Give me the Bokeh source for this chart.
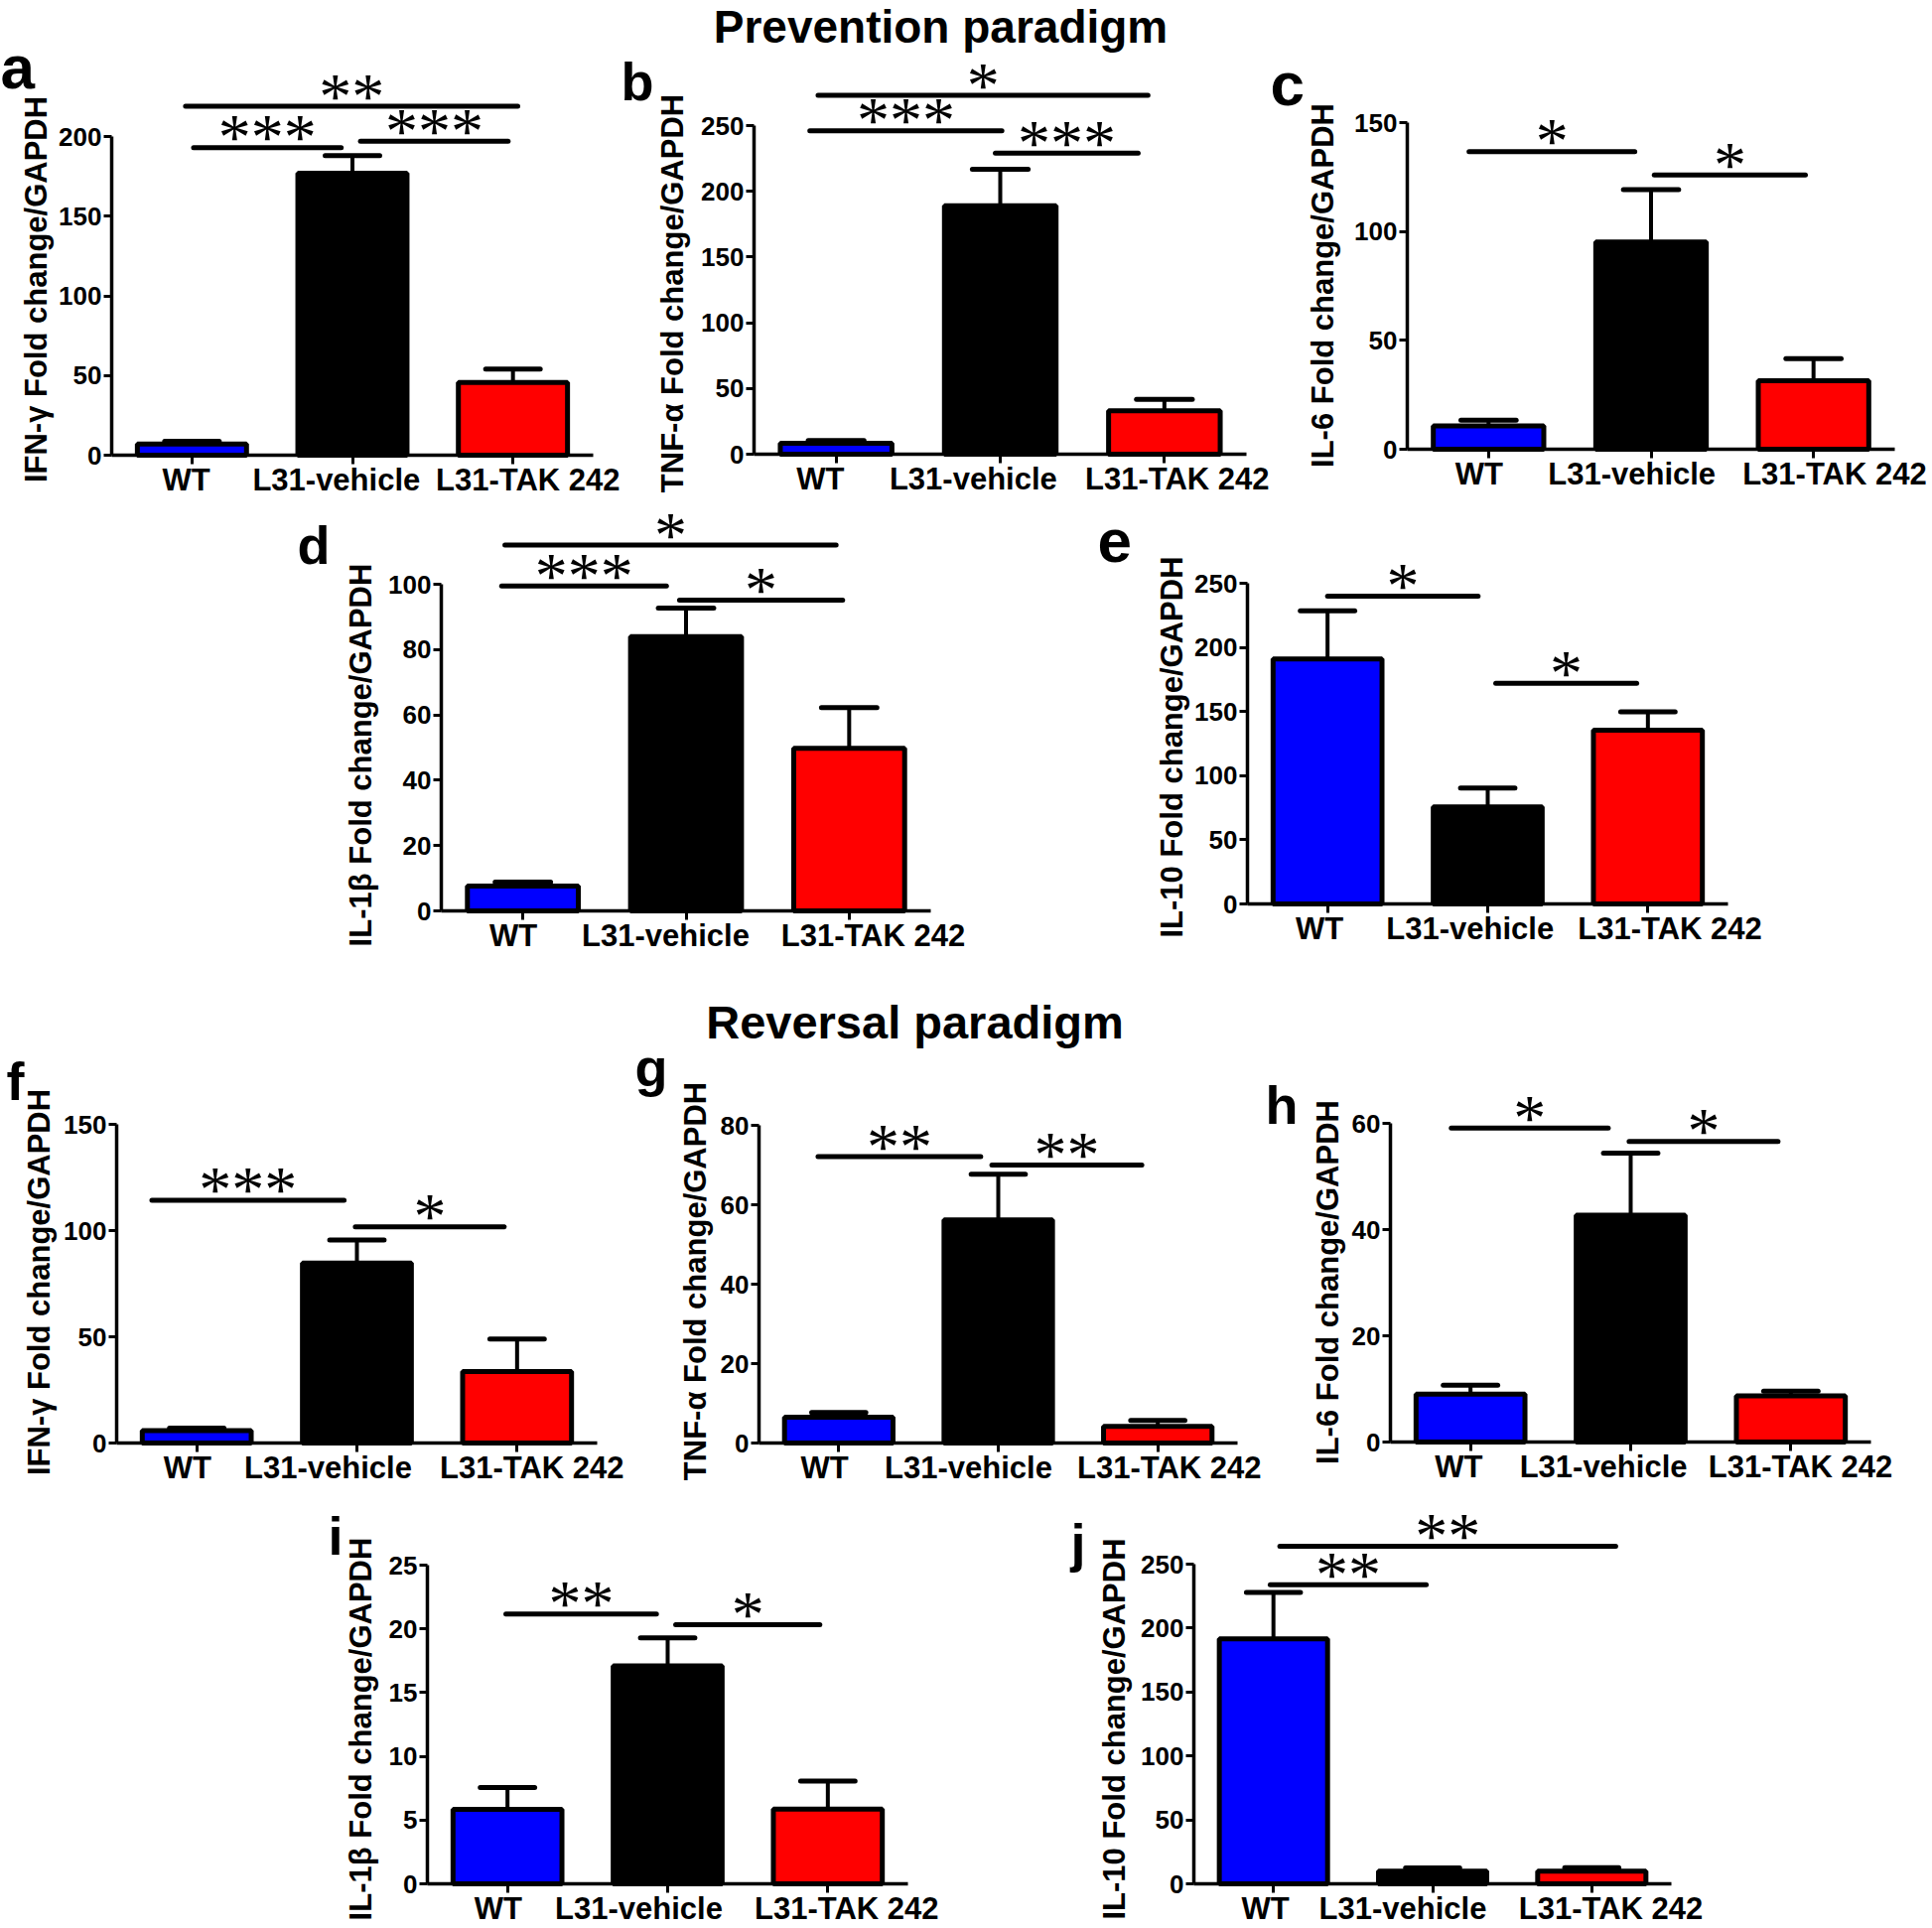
from bokeh.plotting import figure
from bokeh.models import Range1d, FixedTicker, Label, Spacer, ColumnDataSource, LinearAxis
from bokeh.layouts import row, column
from bokeh.embed import file_html
from bokeh.resources import INLINE
from bokeh.core.properties import value

# ---------------- data ----------------
categories = ["WT", "L31-vehicle", "L31-TAK 242"]
bar_colors = ["#0000FF", "#000000", "#FF0000"]

# Prevention paradigm
a_mean = [7.0, 177.0, 45.7];   a_sem = [1.7, 11.0, 8.3]
b_mean = [8.3, 189.0, 33.0];   b_sem = [2.0, 27.8, 8.8]
c_mean = [10.7, 95.2, 31.5];   c_sem = [2.6, 24.0, 10.1]
d_mean = [7.6, 84.0, 49.8];    d_sem = [1.2, 8.7, 12.4]
e_mean = [191.0, 75.7, 135.5]; e_sem = [37.6, 14.7, 14.3]
# Reversal paradigm
f_mean = [5.8, 84.7, 33.7];    f_sem = [1.2, 10.9, 15.3]
g_mean = [6.5, 56.2, 4.2];     g_sem = [1.2, 11.5, 1.5]
h_mean = [9.0, 42.7, 8.7];     h_sem = [1.7, 11.7, 0.9]
i_mean = [5.85, 17.1, 5.87];   i_sem = [1.7, 2.2, 2.2]
j_mean = [191.5, 9.9, 9.9];    j_sem = [36.3, 2.5, 2.7]

# significance brackets: (label, from, to, level)
a_sig = [("**", -0.04, 2.03, 219), ("***", 0.01, 0.93, 193), ("***", 1.05, 1.97, 197)]
b_sig = [("*", -0.11, 1.90, 273), ("***", -0.16, 1.01, 246), ("***", 0.97, 1.84, 229)]
c_sig = [("*", -0.12, 0.90, 136.7), ("*", 1.02, 1.95, 126)]
d_sig = [("*", -0.11, 1.92, 112), ("***", -0.13, 0.88, 99.5), ("*", 0.96, 1.96, 95.1)]
e_sig = [("*", 0.0, 0.94, 240), ("*", 1.05, 1.93, 172)]
f_sig = [("***", -0.28, 0.92, 114.3), ("*", 0.99, 1.92, 101.8)]
g_sig = [("**", -0.13, 0.89, 72.1), ("**", 0.96, 1.90, 70.0)]
h_sig = [("*", -0.12, 0.86, 59.1), ("*", 0.99, 1.92, 56.6)]
i_sig = [("**", -0.01, 0.93, 21.16), ("*", 1.05, 1.95, 20.33)]
j_sig = [("**", 0.04, 2.15, 264), ("**", -0.02, 0.96, 233.8)]

y_labels = {
    "a": "IFN-\u03b3 Fold change/GAPDH", "b": "TNF-\u03b1 Fold change/GAPDH",
    "c": "IL-6 Fold change/GAPDH", "d": "IL-1\u03b2 Fold change/GAPDH",
    "e": "IL-10 Fold change/GAPDH", "f": "IFN-\u03b3 Fold change/GAPDH",
    "g": "TNF-\u03b1 Fold change/GAPDH", "h": "IL-6 Fold change/GAPDH",
    "i": "IL-1\u03b2 Fold change/GAPDH", "j": "IL-10 Fold change/GAPDH",
}
y_ticks_max = {"a": 200, "b": 250, "c": 150, "d": 100, "e": 250,
               "f": 150, "g": 80, "h": 60, "i": 25, "j": 250}
y_ticks_step = {"a": 50, "b": 50, "c": 50, "d": 20, "e": 50,
                "f": 50, "g": 20, "h": 20, "i": 5, "j": 50}

# ---------------- layout (page pixels) ----------------
SANS = "Liberation Sans"
# key: (fig_left, fig_top, fig_w, fig_h, axis_left, axis_right, y0_px, ytop_px,
#       letter_x, letter_anchor_y, ylabel_x, ylabel_center_y)
geom = {
    "a": (0, 0, 624, 503, 112, 597, 458, 137, 0, 67, 36, 291),
    "b": (624, 0, 654, 503, 759, 1255, 457, 126, 625, 81, 677, 295),
    "c": (1278, 0, 666, 503, 1417, 1908, 452, 123, 1279, 84, 1332, 287),
    "d": (290, 503, 690, 482, 444, 937, 917, 588, 299, 548, 363, 760),
    "e": (1095, 503, 695, 482, 1256, 1740, 910, 587, 1105, 544, 1180, 752),
    "f": (0, 985, 628, 512, 117, 601, 1453, 1132, 6, 1088, 39, 1291),
    "g": (628, 985, 642, 512, 764, 1246, 1453, 1133, 639, 1074, 700, 1290),
    "h": (1270, 985, 674, 512, 1400, 1884, 1452, 1131, 1274, 1112, 1337, 1291),
    "i": (322, 1497, 623, 445, 430, 914, 1897, 1576, 330, 1546, 363, 1741),
    "j": (1068, 1497, 652, 445, 1202, 1683, 1897, 1575, 1078, 1553, 1122, 1741),
}
letter_size = {"a": 62, "b": 54, "c": 62, "d": 54, "e": 62,
               "f": 54, "g": 54, "h": 54, "i": 54, "j": 54}
# category-label offsets from each tick (the original staggers them)
label_shift = {
    "a": [-0.035, -0.10, 0.14], "b": [-0.096, -0.164, 0.14], "c": [-0.058, -0.118, 0.13],
    "d": [-0.058, -0.125, 0.147], "e": [-0.05, -0.11, 0.138], "f": [-0.058, -0.18, 0.12],
    "g": [-0.088, -0.187, 0.15], "h": [-0.073, -0.17, 0.06], "i": [-0.058, -0.18, 0.145],
    "j": [-0.05, -0.187, 0.12],
}

data = {
    "a": (a_mean, a_sem, a_sig), "b": (b_mean, b_sem, b_sig), "c": (c_mean, c_sem, c_sig),
    "d": (d_mean, d_sem, d_sig), "e": (e_mean, e_sem, e_sig), "f": (f_mean, f_sem, f_sig),
    "g": (g_mean, g_sem, g_sig), "h": (h_mean, h_sem, h_sig), "i": (i_mean, i_sem, i_sig),
    "j": (j_mean, j_sem, j_sig),
}


def make_panel(key):
    (fx, fy, fw, fh, fl, fr, y0, ytp, lx, lby, ylx, ylcy) = geom[key]
    mean, sem, sig = data[key]
    ymax_t = y_ticks_max[key]
    pxu = (y0 - ytp) / ymax_t
    s = (fr - fl) / 3.0
    x_start = (fx - fl) / s - 0.5
    x_end = (fx + fw - fl) / s - 0.5
    y_start = (y0 - (fy + fh)) / pxu
    y_end = (y0 - fy) / pxu

    p = figure(width=fw, height=fh, x_range=Range1d(x_start, x_end),
               y_range=Range1d(y_start, y_end), output_backend="svg",
               toolbar_location=None, tools="", background_fill_color="white",
               border_fill_color="white")
    p.min_border = 0
    p.min_border_left = 0
    p.min_border_right = 0
    p.min_border_top = 0
    p.min_border_bottom = 0
    p.outline_line_color = None
    p.xgrid.visible = False
    p.ygrid.visible = False

    # y axis (fixed at the left edge of the category span)
    ya = p.yaxis[0]
    ya.fixed_location = -0.5
    ya.ticker = FixedTicker(ticks=list(range(0, ymax_t + 1, y_ticks_step[key])))
    ya.bounds = (0, ymax_t)
    ya.axis_line_width = 3.5
    ya.major_tick_line_width = 3
    ya.major_tick_out = 8
    ya.major_tick_in = 0
    ya.minor_tick_line_color = None
    ya.major_label_text_font = SANS
    ya.major_label_text_font_style = "bold"
    ya.major_label_text_font_size = "26px"
    ya.major_label_text_color = "black"
    ya.major_label_standoff = 2

    # x axis at y = 0 with tick marks under each bar
    xa = p.xaxis[0]
    xa.fixed_location = 0
    xa.bounds = (-0.5, 2.5)
    xa.ticker = FixedTicker(ticks=[0, 1, 2])
    xa.major_label_overrides = {0: "", 1: "", 2: ""}
    xa.axis_line_width = 3.5
    xa.major_tick_line_width = 3
    xa.major_tick_out = 9
    xa.major_tick_in = 0
    xa.minor_tick_line_color = None

    # category labels (second axis, staggered like the original)
    lab_pos = [i + d for i, d in enumerate(label_shift[key])]
    xl = LinearAxis(fixed_location=0, ticker=FixedTicker(ticks=lab_pos),
                    major_label_overrides={lab_pos[i]: categories[i] for i in range(3)},
                    axis_line_color=None, major_tick_line_color=None,
                    minor_tick_line_color=None, major_tick_out=7, major_tick_in=0,
                    major_label_standoff=0, major_label_text_font=SANS,
                    major_label_text_font_style="bold", major_label_text_font_size="31px",
                    major_label_text_color="black")
    p.add_layout(xl, "below")

    xs = [0, 1, 2]
    tops = [m + e for m, e in zip(mean, sem)]
    # error bars (upper only)
    p.segment(x0=xs, y0=mean, x1=xs, y1=tops, line_color="black", line_width=4)
    p.segment(x0=[x - 0.17 for x in xs], y0=tops, x1=[x + 0.17 for x in xs], y1=tops,
              line_color="black", line_width=5, line_cap="round")
    # bars
    src = ColumnDataSource(dict(x=xs, top=mean, color=bar_colors, cat=categories))
    p.vbar(x="x", top="top", bottom=0, width=0.68, source=src, fill_color="color",
           line_color="black", line_width=5)

    # significance
    labs = [t[0] for t in sig]
    x0s = [t[1] for t in sig]
    x1s = [t[2] for t in sig]
    lev = [t[3] for t in sig]
    p.segment(x0=x0s, y0=lev, x1=x1s, y1=lev, line_color="black", line_width=5,
              line_cap="round")
    p.text(x=[(u + v) / 2 for u, v in zip(x0s, x1s)], y=lev, text=labs,
           text_font=value("Liberation Serif"), text_font_size="66px",
           text_align="center", text_baseline="alphabetic", y_offset=-11,
           text_color="black")

    H = fy + fh
    # panel letter
    p.add_layout(Label(x=lx - fx, y=H - lby, x_units="screen", y_units="screen",
                       text=key, text_font=SANS, text_font_style="bold",
                       text_font_size=f"{letter_size[key]}px", text_align="left",
                       text_baseline="alphabetic", text_color="black"))
    # y label
    p.add_layout(Label(x=ylx - fx, y=H - ylcy, x_units="screen", y_units="screen",
                       text=y_labels[key], angle=90, angle_units="deg",
                       text_font=SANS, text_font_style="bold", text_font_size="31px",
                       text_align="center", text_baseline="alphabetic",
                       text_color="black"))
    return p


P = {k: make_panel(k) for k in "abcdefghij"}

# paradigm titles
P["b"].add_layout(Label(x=947 - 624, y=503 - 26, x_units="screen", y_units="screen",
                        text="Prevention paradigm", text_font=SANS,
                        text_font_style="bold", text_font_size="46px",
                        text_align="center", text_baseline="alphabetic",
                        text_color="black"))
P["g"].add_layout(Label(x=921 - 628, y=1497 - 1029, x_units="screen", y_units="screen",
                        text="Reversal paradigm", text_font=SANS,
                        text_font_style="bold", text_font_size="47px",
                        text_align="center", text_baseline="alphabetic",
                        text_color="black"))

band1 = row(P["a"], P["b"], P["c"], spacing=0)
band2 = row(Spacer(width=290, height=482), P["d"], Spacer(width=115, height=482), P["e"],
            Spacer(width=154, height=482), spacing=0)
band3 = row(P["f"], P["g"], P["h"], spacing=0)
band4 = row(Spacer(width=322, height=445), P["i"], Spacer(width=123, height=445), P["j"],
            Spacer(width=224, height=445), spacing=0)
layout = column(band1, band2, band3, band4, spacing=0)

open("out.html", "w").write(file_html(layout, INLINE))
